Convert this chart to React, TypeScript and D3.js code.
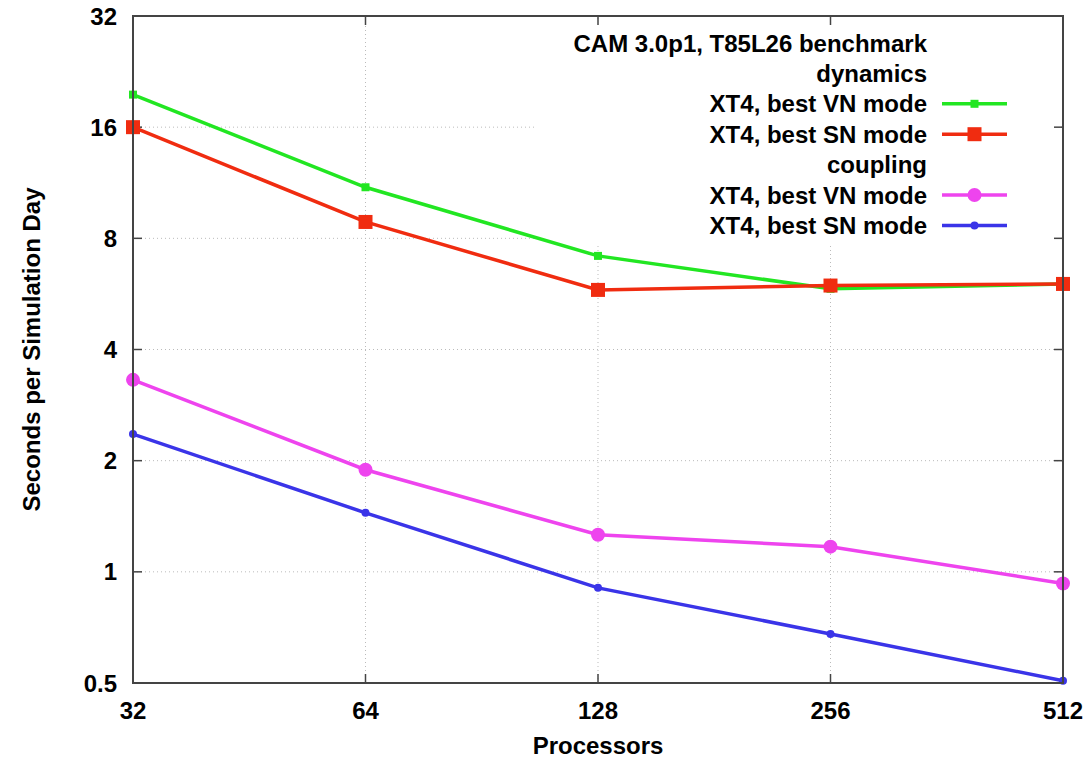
import { useEffect, useRef } from 'react'
import * as d3 from 'd3'

const processors = [32, 64, 128, 256, 512]
const yTicks = [0.5, 1, 2, 4, 8, 16, 32]

const dynVN = [19.6, 11.0, 7.17, 5.84, 6.02]
const dynSN = [16.0, 8.86, 5.8, 5.96, 6.02]
const cplVN = [3.31, 1.89, 1.26, 1.17, 0.93]
const cplSN = [2.36, 1.445, 0.905, 0.679, 0.507]

const series = [
  { name: 'XT4, best VN mode', group: 'dynamics', values: dynVN, color: '#22e622', marker: 'square', size: 8 },
  { name: 'XT4, best SN mode', group: 'dynamics', values: dynSN, color: '#f02c10', marker: 'square', size: 14 },
  { name: 'XT4, best VN mode', group: 'coupling', values: cplVN, color: '#ee44ee', marker: 'circle', size: 7 },
  { name: 'XT4, best SN mode', group: 'coupling', values: cplSN, color: '#3a34e8', marker: 'circle', size: 4 },
]

function App() {
  const svgRef = useRef<SVGSVGElement>(null)

  useEffect(() => {
    const width = 1092
    const height = 760
    const margin = { top: 16, right: 29, bottom: 77, left: 133 }
    const font = '"Liberation Sans", Arial, sans-serif'

    const svg = d3.select(svgRef.current)
    svg.selectAll('*').remove()
    svg.attr('width', width).attr('height', height)

    const x = d3.scaleLog().base(2)
      .domain([32, 512])
      .range([margin.left, width - margin.right])

    const y = d3.scaleLog().base(2)
      .domain([0.5, 32])
      .range([height - margin.bottom, margin.top])

    const [x0, x1] = x.range()
    const [y0, y1] = y.range()

    // dotted grid
    const grid = svg.append('g')
      .attr('stroke', '#bbb')
      .attr('stroke-width', 1)
      .attr('stroke-dasharray', '1,3')
    grid.selectAll('line.gx')
      .data(processors.slice(1, -1))
      .join('line')
      .attr('x1', d => x(d)).attr('x2', d => x(d))
      .attr('y1', y0).attr('y2', y1)
    grid.selectAll('line.gy')
      .data(yTicks.slice(1, -1))
      .join('line')
      .attr('class', 'gy')
      .attr('x1', x0).attr('x2', x1)
      .attr('y1', d => y(d)).attr('y2', d => y(d))

    // legend background hides the grid
    svg.append('rect')
      .attr('x', 535).attr('y', 20)
      .attr('width', x1 - 537).attr('height', 224)
      .attr('fill', '#fff')

    // ticks (inward, mirrored)
    const ticks = svg.append('g').attr('stroke', '#444').attr('stroke-width', 1.5)
    yTicks.forEach(v => {
      ticks.append('line').attr('x1', x0).attr('x2', x0 + 9).attr('y1', y(v)).attr('y2', y(v))
      ticks.append('line').attr('x1', x1).attr('x2', x1 - 9).attr('y1', y(v)).attr('y2', y(v))
    })
    processors.forEach(v => {
      ticks.append('line').attr('x1', x(v)).attr('x2', x(v)).attr('y1', y0).attr('y2', y0 - 9)
      ticks.append('line').attr('x1', x(v)).attr('x2', x(v)).attr('y1', y1).attr('y2', y1 + 9)
    })

    // tick labels
    svg.append('g')
      .selectAll('text')
      .data(yTicks)
      .join('text')
      .attr('x', x0 - 16)
      .attr('y', d => y(d))
      .attr('dy', '0.36em')
      .attr('text-anchor', 'end')
      .attr('font-family', font)
      .attr('font-weight', 'bold')
      .attr('font-size', 24)
      .text(d => String(d))

    svg.append('g')
      .selectAll('text')
      .data(processors)
      .join('text')
      .attr('x', d => x(d))
      .attr('y', y0 + 36)
      .attr('text-anchor', 'middle')
      .attr('font-family', font)
      .attr('font-weight', 'bold')
      .attr('font-size', 24)
      .text(d => String(d))

    // axis titles
    svg.append('text')
      .attr('x', (x0 + x1) / 2)
      .attr('y', 754)
      .attr('text-anchor', 'middle')
      .attr('font-family', font)
      .attr('font-weight', 'bold')
      .attr('font-size', 24)
      .text('Processors')

    svg.append('text')
      .attr('transform', `translate(40,${(y0 + y1) / 2}) rotate(-90)`)
      .attr('text-anchor', 'middle')
      .attr('font-family', font)
      .attr('font-weight', 'bold')
      .attr('font-size', 24)
      .text('Seconds per Simulation Day')

    // lines + markers
    const line = d3.line<number>()
      .x((_, i) => x(processors[i]))
      .y(d => y(d))

    series.forEach(s => {
      svg.append('path')
        .datum(s.values)
        .attr('d', line)
        .attr('fill', 'none')
        .attr('stroke', s.color)
        .attr('stroke-width', 3.5)
      const g = svg.append('g').attr('fill', s.color)
      if (s.marker === 'square') {
        g.selectAll('rect')
          .data(s.values)
          .join('rect')
          .attr('x', (_, i) => x(processors[i]) - s.size / 2)
          .attr('y', d => y(d) - s.size / 2)
          .attr('width', s.size).attr('height', s.size)
      } else {
        g.selectAll('circle')
          .data(s.values)
          .join('circle')
          .attr('cx', (_, i) => x(processors[i]))
          .attr('cy', d => y(d))
          .attr('r', s.size)
      }
    })

    // border
    svg.append('rect')
      .attr('x', x0).attr('y', y1)
      .attr('width', x1 - x0).attr('height', y0 - y1)
      .attr('fill', 'none')
      .attr('stroke', '#444')
      .attr('stroke-width', 2)

    // legend
    const rows = [
      { label: 'CAM 3.0p1, T85L26 benchmark', s: null },
      { label: 'dynamics', s: null },
      { label: series[0].name, s: series[0] },
      { label: series[1].name, s: series[1] },
      { label: 'coupling', s: null },
      { label: series[2].name, s: series[2] },
      { label: series[3].name, s: series[3] },
    ]
    const legend = svg.append('g')
    rows.forEach((r, i) => {
      const ry = 43 + i * 30.4
      legend.append('text')
        .attr('x', 927)
        .attr('y', ry)
        .attr('dy', '0.36em')
        .attr('text-anchor', 'end')
        .attr('font-family', font)
        .attr('font-weight', 'bold')
        .attr('font-size', 24)
        .text(r.label)
      if (r.s) {
        const s = r.s
        legend.append('line')
          .attr('x1', 942).attr('x2', 1007)
          .attr('y1', ry).attr('y2', ry)
          .attr('stroke', s.color)
          .attr('stroke-width', 3.5)
        if (s.marker === 'square') {
          legend.append('rect')
            .attr('x', 974.5 - s.size / 2).attr('y', ry - s.size / 2)
            .attr('width', s.size).attr('height', s.size)
            .attr('fill', s.color)
        } else {
          legend.append('circle')
            .attr('cx', 974.5).attr('cy', ry)
            .attr('r', s.size)
            .attr('fill', s.color)
        }
      }
    })
  }, [])

  return <svg ref={svgRef} style={{ position: 'absolute', left: 0, top: 0 }}></svg>
}

export default App
